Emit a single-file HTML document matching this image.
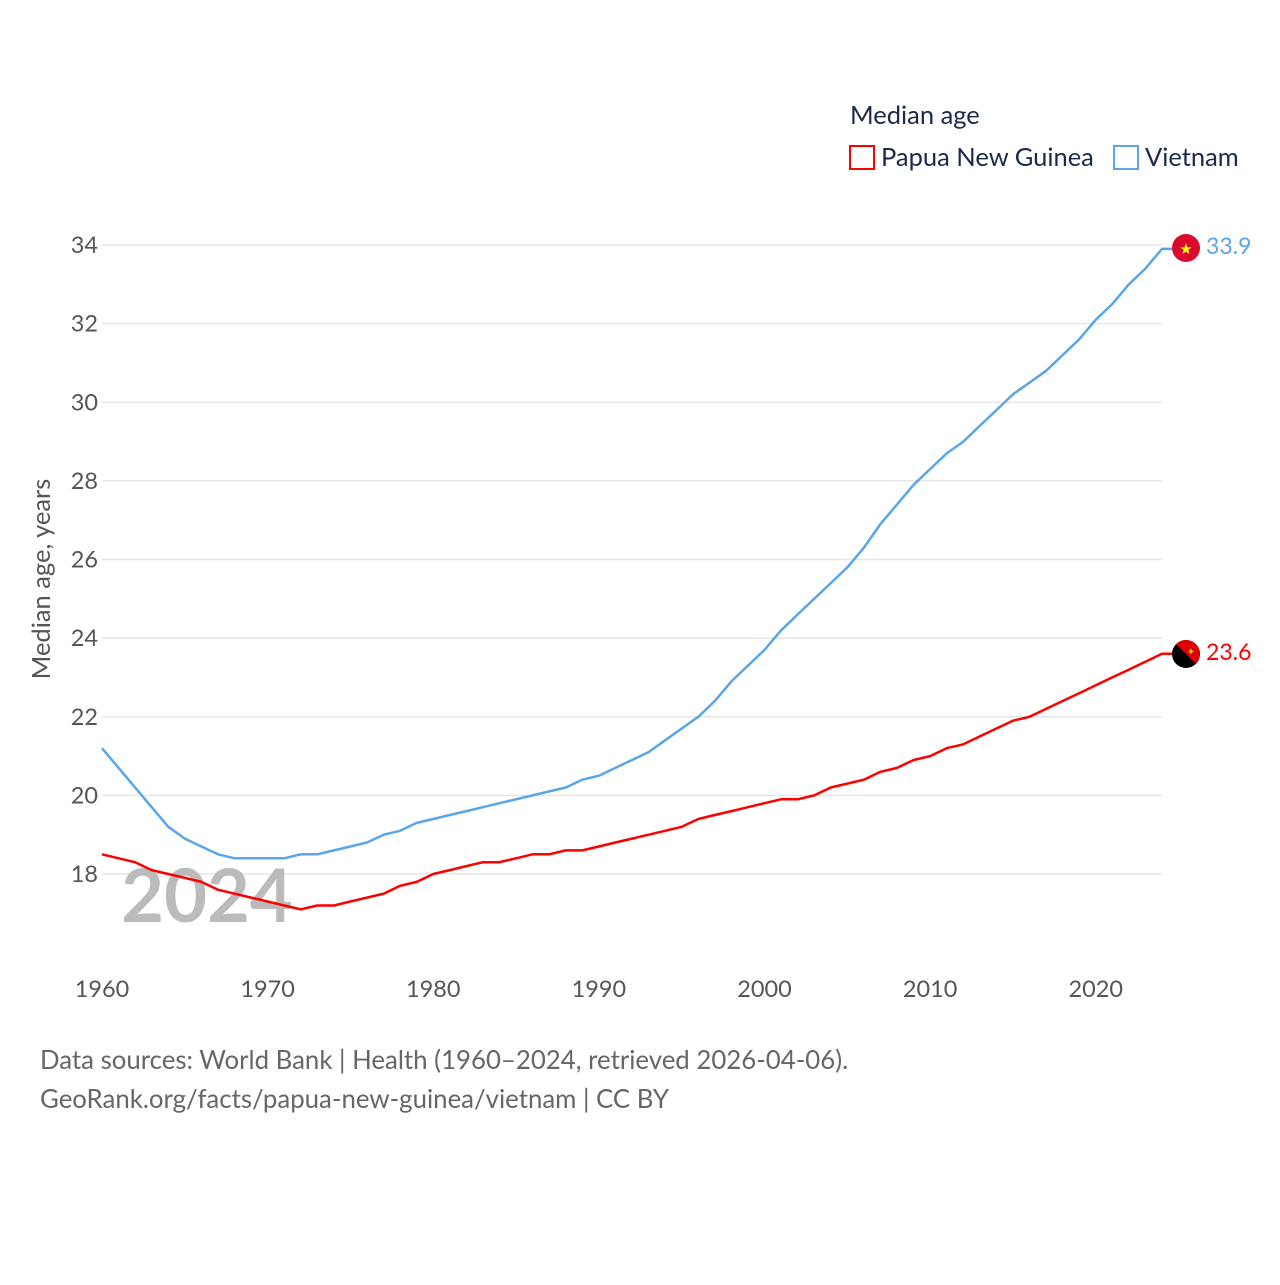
<!DOCTYPE html>
<html><head><meta charset="utf-8"><style>
body{margin:0;background:#fff;font-family:"Liberation Sans",sans-serif}
svg text{font-family:"Lato","Liberation Sans",sans-serif}
</style></head><body>
<svg width="1280" height="1280" viewBox="0 0 1280 1280">
<rect width="1280" height="1280" fill="#fff"/>
<g id="grid"></g>
<g id="yt"></g>
<g id="xt"></g>
<text x="207" y="922" font-size="74" font-weight="bold" fill="#bbb" text-anchor="middle">2024</text>
<text transform="translate(50,579) rotate(-90)" font-size="25.5" fill="#555" text-anchor="middle">Median age, years</text>
<g id="lines"></g>
<g>
<text x="850" y="124" font-size="25.5" fill="#1b2a4a">Median age</text>
<g><rect x="850" y="146" width="24" height="23" fill="none" stroke="#f00" stroke-width="2"/><text x="881" y="166" font-size="25.5" fill="#1b2a4a">Papua New Guinea</text></g>
<g><rect x="1114" y="146" width="24" height="23" fill="none" stroke="#5aa5ea" stroke-width="2"/><text x="1145" y="166" font-size="25.5" fill="#1b2a4a">Vietnam</text></g>
</g>
<g><circle cx="1186" cy="248" r="14" fill="#da0a2f"/><text x="1186" y="254" font-size="15" fill="#ff0" text-anchor="middle">★</text></g>
<g><circle cx="1186" cy="654" r="14" fill="#000"/><path d="M1176.1,644.1 A14,14 0 0 1 1195.9,663.9 Z" fill="#d00"/><text x="1191" y="655" font-size="10" fill="#fc0" text-anchor="middle">✦</text></g>
<text x="1206" y="254" font-size="23" fill="#5aa5ea">33.9</text>
<text x="1206" y="660" font-size="23" fill="#f00">23.6</text>
<text x="40" y="1069" font-size="25.8" fill="#666">Data sources: World Bank | Health (1960–2024, retrieved 2026-04-06).</text>
<text x="40" y="1108" font-size="25.8" fill="#666">GeoRank.org/facts/papua-new-guinea/vietnam | CC BY</text>
</svg>
<script>
const years=[];for(let y=1960;y<=2024;y++)years.push(y);
const vietnam=[21.2,20.7,20.2,19.7,19.2,18.9,18.7,18.5,18.4,18.4,18.4,18.4,18.5,18.5,18.6,18.7,18.8,19.0,19.1,19.3,19.4,19.5,19.6,19.7,19.8,19.9,20.0,20.1,20.2,20.4,20.5,20.7,20.9,21.1,21.4,21.7,22.0,22.4,22.9,23.3,23.7,24.2,24.6,25.0,25.4,25.8,26.3,26.9,27.4,27.9,28.3,28.7,29.0,29.4,29.8,30.2,30.5,30.8,31.2,31.6,32.1,32.5,33.0,33.4,33.9];
const png=[18.5,18.4,18.3,18.1,18.0,17.9,17.8,17.6,17.5,17.4,17.3,17.2,17.1,17.2,17.2,17.3,17.4,17.5,17.7,17.8,18.0,18.1,18.2,18.3,18.3,18.4,18.5,18.5,18.6,18.6,18.7,18.8,18.9,19.0,19.1,19.2,19.4,19.5,19.6,19.7,19.8,19.9,19.9,20.0,20.2,20.3,20.4,20.6,20.7,20.9,21.0,21.2,21.3,21.5,21.7,21.9,22.0,22.2,22.4,22.6,22.8,23.0,23.2,23.4,23.6];
const yTicks=[18,20,22,24,26,28,30,32,34];
const xTicks=[1960,1970,1980,1990,2000,2010,2020];
const NS="http://www.w3.org/2000/svg";
const X=v=>102+(v-1960)*(1162-102)/64;
const Y=v=>874-(v-18)*(874-245)/16;
function mk(t,a,p){const e=document.createElementNS(NS,t);for(const k in a)e.setAttribute(k,a[k]);p.appendChild(e);return e;}
const grid=document.getElementById('grid'),yt=document.getElementById('yt'),xt=document.getElementById('xt'),lines=document.getElementById('lines');
yTicks.forEach(v=>{
 const l=mk('line',{x1:102,x2:1162,y1:Y(v),y2:Y(v),stroke:'#e6e6e6','stroke-width':1.5},grid);
 
 
 const t=mk('text',{x:98,y:Y(v)+8,'font-size':23.5,fill:'#555','text-anchor':'end'},yt);t.textContent=v;
 
 
});
xTicks.forEach(v=>{
 const t=mk('text',{x:X(v),y:997,'font-size':23.5,fill:'#555','text-anchor':'middle'},xt);t.textContent=v;
 
 
});
function line(data,color,name){
 let d=data.map((v,i)=>(i?'L':'M')+X(years[i]).toFixed(1)+','+Y(v).toFixed(1)).join('');
 d+='L1172,'+Y(data[data.length-1]).toFixed(1);
 const p=mk('path',{d:d,fill:'none',stroke:color,'stroke-width':2.5,'stroke-linejoin':'round'},lines);
 
 
}
line(png,'#ff0000','png-line');
line(vietnam,'#5aa5ea','vietnam-line');
</script>
</body></html>
